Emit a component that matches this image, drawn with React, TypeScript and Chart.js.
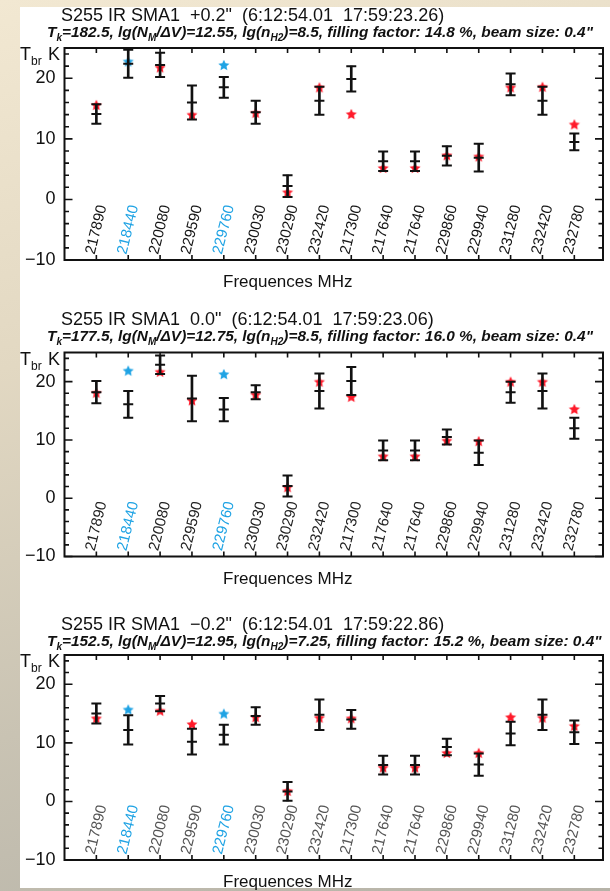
import React, { useEffect, useRef } from 'react';
import { Chart, registerables } from 'chart.js';

Chart.register(...registerables);

// ---------------- data ----------------
const freqLabels = ['217890', '218440', '220080', '229590', '229760', '230030', '230290', '232420', '217300', '217640', '217640', '229860', '229940', '231280', '232420', '232780'];
const blueLines = ['218440', '229760'];
const yTickValues = [-10, 0, 10, 20];
const yMin = -10;
const yMax = 25;

const offsets = ['+0.2"', '0.0"', '\u22120.2"'];
const coords = ['6:12:54.01  17:59:23.26', '6:12:54.01  17:59:23.06', '6:12:54.01  17:59:22.86'];
const tkValues = ['182.5', '177.5', '152.5'];
const lgNValues = ['12.55', '12.75', '12.95'];
const lgnValues = ['8.5', '8.5', '7.25'];
const fillValues = ['14.8', '16.0', '15.2'];
const beamSize = '0.4"';
const xAxisTitle = 'Frequences MHz';

const obsP1 = [14.1, 22.4, 22.2, 16.0, 18.5, 14.4, 2.2, 16.3, 19.9, 6.3, 6.3, 7.2, 6.9, 19.0, 16.3, 9.5];
const errP1 = [1.6, 2.3, 2.0, 2.8, 1.7, 1.9, 1.8, 2.3, 2.1, 1.6, 1.6, 1.6, 2.3, 1.8, 2.3, 1.4];
const modelP1 = [15.6, 22.8, 21.8, 14.0, 22.2, 14.3, 1.2, 18.5, 14.1, 5.2, 5.2, 7.3, 7.1, 18.5, 18.6, 12.4];

const obsP2 = [18.2, 16.1, 22.9, 17.1, 15.2, 18.2, 2.1, 18.4, 20.1, 8.2, 8.2, 10.5, 7.8, 18.2, 18.4, 12.0];
const errP2 = [1.9, 2.3, 1.6, 3.9, 2.0, 1.2, 1.8, 3.0, 2.4, 1.7, 1.7, 1.3, 2.1, 1.8, 3.0, 1.8];
const modelP2 = [18.1, 21.9, 21.7, 16.8, 21.3, 17.8, 1.9, 20.0, 17.4, 7.2, 7.2, 9.9, 9.8, 20.0, 20.0, 15.3];

const obsP3 = [15.0, 12.2, 16.7, 10.2, 11.4, 14.6, 1.7, 14.8, 14.0, 6.2, 6.2, 9.3, 6.3, 11.6, 14.8, 11.8];
const errP3 = [1.7, 2.5, 1.3, 2.2, 1.7, 1.5, 1.6, 2.6, 1.6, 1.6, 1.6, 1.4, 1.9, 2.0, 2.6, 2.0];
const modelP3 = [14.2, 15.7, 15.5, 13.2, 15.0, 14.4, 1.8, 14.3, 14.2, 5.8, 5.8, 8.3, 8.3, 14.4, 14.3, 12.9];

const obsAll = [obsP1, obsP2, obsP3];
const errAll = [errP1, errP2, errP3];
const modelAll = [modelP1, modelP2, modelP3];

// ---------------- styles / layout ----------------
const FONT = '"Liberation Sans", Arial, Helvetica, sans-serif';
const INK = '#111';
const CYAN = '#1fa3e4';
const RED = '#ff1a2a';

const layouts = [
  { top: 0, height: 300, areaTop: 48, areaBottom: 260, titleY: 21, subY: 37, labelColor: '#151515' },
  { top: 300, height: 305, areaTop: 352.5, areaBottom: 556.5, titleY: 325, subY: 341, labelColor: '#222' },
  { top: 605, height: 286, areaTop: 655, areaBottom: 860, titleY: 630, subY: 646, labelColor: '#555' },
];
const AREA_LEFT = 64.5;
const Y_AXIS_W = 44;
const AREA_RIGHT = 609;
const X_MAX = 16.9;

function makeStar(color: string, r: number) {
  const c = document.createElement('canvas');
  const s = Math.ceil(r * 2 + 2);
  c.width = s;
  c.height = s;
  const g = c.getContext('2d')!;
  g.fillStyle = color;
  g.beginPath();
  for (let k = 0; k < 10; k++) {
    const rr = k % 2 === 0 ? r : r * 0.48;
    const a = -Math.PI / 2 + (k * Math.PI) / 5;
    g.lineTo(s / 2 + rr * Math.cos(a), s / 2 + 0.5 + rr * Math.sin(a));
  }
  g.closePath();
  g.fill();
  return c;
}

function drawRich(ctx: CanvasRenderingContext2D, parts: [string, boolean][], x: number, y: number, size: number, style: string) {
  let cx = x;
  for (const [t, sub] of parts) {
    const fs = sub ? Math.round(size * 0.68) : size;
    ctx.font = `${style} ${fs}px ${FONT}`;
    ctx.fillText(t, cx, sub ? y + size * 0.28 : y);
    cx += ctx.measureText(t).width;
  }
}

function Panel({ idx }: { idx: number }) {
  const ref = useRef<HTMLCanvasElement>(null);
  const L = layouts[idx];
  useEffect(() => {
    const canvas = ref.current!;
    const obs = obsAll[idx];
    const err = errAll[idx];
    const model = modelAll[idx];
    const xs = freqLabels.map((_, i) => i + 1);
    const redStar = makeStar(RED, 5.8);
    const blueStar = makeStar(CYAN, 5.8);

    const decor = {
      id: 'decor' + idx,
      beforeDatasetsDraw(chart: any) {
        const ctx = chart.ctx as CanvasRenderingContext2D;
        const { left, right, top, bottom } = chart.chartArea;
        const xs_ = chart.scales.x;
        const ys_ = chart.scales.y;
        ctx.save();
        ctx.strokeStyle = INK;
        ctx.lineWidth = 2;
        ctx.strokeRect(left, top, right - left, bottom - top);
        ctx.lineWidth = 1.6;
        ctx.beginPath();
        for (let v = yMin; v < yMax; v += 2) {
          const y = ys_.getPixelForValue(v);
          const len = v % 10 === 0 ? 8 : 4.5;
          ctx.moveTo(left, y);
          ctx.lineTo(left + len, y);
          ctx.moveTo(right, y);
          ctx.lineTo(right - len, y);
        }
        xs.forEach((x) => {
          const px = xs_.getPixelForValue(x);
          ctx.moveTo(px, bottom);
          ctx.lineTo(px, bottom - 5);
          ctx.moveTo(px, top);
          ctx.lineTo(px, top + 5);
        });
        ctx.stroke();

        // category labels inside plot
        const yb = ys_.getPixelForValue(yMin) - 6;
        ctx.font = `15px ${FONT}`;
        ctx.textAlign = 'left';
        ctx.textBaseline = 'middle';
        freqLabels.forEach((lab, i) => {
          const px = xs_.getPixelForValue(xs[i]);
          ctx.save();
          ctx.translate(px - 6, yb);
          ctx.rotate((-76 * Math.PI) / 180);
          ctx.fillStyle = blueLines.includes(lab) ? CYAN : L.labelColor;
          ctx.fillText(lab, 0, 0);
          ctx.restore();
        });
        ctx.restore();
      },
      afterDraw(chart: any) {
        const ctx = chart.ctx as CanvasRenderingContext2D;
        const { bottom } = chart.chartArea;
        ctx.save();
        ctx.fillStyle = INK;
        ctx.textAlign = 'left';
        ctx.textBaseline = 'alphabetic';
        // title
        ctx.font = `18px ${FONT}`;
        ctx.fillText(`S255 IR SMA1  ${offsets[idx]}  (${coords[idx]})`, 61, L.titleY - L.top);
        // subtitle
        drawRich(
          ctx,
          [
            ['T', false],
            ['k', true],
            [`=${tkValues[idx]}, lg(N`, false],
            ['M', true],
            [`/\u0394V)=${lgNValues[idx]}, lg(n`, false],
            ['H2', true],
            [`)=${lgnValues[idx]}, filling factor: ${fillValues[idx]} %, beam size: ${beamSize}`, false],
          ],
          47,
          L.subY - L.top,
          15.4,
          'italic bold'
        );
        // y label
        const ty = L.areaTop + 12 - L.top;
        drawRich(ctx, [['T', false], ['br', true]], 20, ty, 18, 'normal');
        ctx.font = `18px ${FONT}`;
        ctx.fillText('K', 48, ty);
        // x axis title
        ctx.font = `17px ${FONT}`;
        ctx.fillText(xAxisTitle, 223, bottom + 27);
        ctx.restore();
      },
    };

    const chart = new Chart(canvas, {
      type: 'scatter',
      data: {
        datasets: [
          {
            type: 'scatter',
            data: xs.flatMap((x, i) => [
              { x, y: obs[i] + err[i] },
              { x, y: obs[i] - err[i] },
              { x, y: obs[i] },
            ]),
            pointStyle: 'line',
            pointRadius: 5,
            pointBorderWidth: 2,
            pointBorderColor: INK,
            order: 0,
          } as any,
          {
            type: 'bar',
            data: xs.map((x, i) => ({ x, y: [obs[i] - err[i], obs[i] + err[i]] })),
            backgroundColor: INK,
            borderWidth: 0,
            barThickness: 2,
            grouped: false,
            order: 1,
          } as any,
          {
            type: 'scatter',
            data: xs.map((x, i) => ({ x, y: model[i] })),
            pointStyle: (c: any) => (blueLines.includes(freqLabels[c.dataIndex]) ? blueStar : redStar),
            pointRadius: 6,
            order: 2,
          } as any,
        ],
      },
      options: {
        responsive: false,
        animation: false,
        events: [],
        layout: {
          padding: {
            left: AREA_LEFT - Y_AXIS_W,
            right: 610 - AREA_RIGHT,
            top: L.areaTop - L.top,
            bottom: L.top + L.height - L.areaBottom,
          },
        },
        plugins: { legend: { display: false }, tooltip: { enabled: false }, title: { display: false } },
        scales: {
          x: {
            type: 'linear',
            min: 0,
            max: X_MAX,
            offset: false,
            grid: { display: false, drawTicks: false },
            border: { display: false },
            ticks: { display: false },
            afterFit: (s: any) => {
              s.height = 0;
            },
          },
          y: {
            type: 'linear',
            min: yMin,
            max: yMax,
            grid: { display: false, drawTicks: false },
            border: { display: false },
            afterBuildTicks: (s: any) => {
              s.ticks = yTickValues.map((v) => ({ value: v }));
            },
            ticks: {
              color: INK,
              padding: 9,
              font: { family: FONT, size: 18 },
              callback: (v: any) => (Number(v) < 0 ? '\u2212' + Math.abs(Number(v)) : String(v)),
            },
            afterFit: (s: any) => {
              s.width = Y_AXIS_W;
            },
          },
        } as any,
      },
      plugins: [decor as any],
    });
    return () => chart.destroy();
  }, [idx]);
  return (
    <canvas
      ref={ref}
      width={610}
      height={L.height}
      style={{ position: 'absolute', left: 0, top: L.top, width: 610, height: L.height }}
    />
  );
}

export default function App() {
  return (
    <div
      style={{
        position: 'fixed',
        left: 0,
        top: 0,
        width: 610,
        height: 891,
        overflow: 'hidden',
        background: 'linear-gradient(165deg, #f2e8d2 0%, #e2d8c2 35%, #c9c3b3 70%, #b6b3a8 100%)',
      }}
    >
      <div style={{ position: 'absolute', left: 20, top: 7, width: 590, height: 881, background: '#fff' }} />
      {[0, 1, 2].map((i) => (
        <Panel key={i} idx={i} />
      ))}
    </div>
  );
}
